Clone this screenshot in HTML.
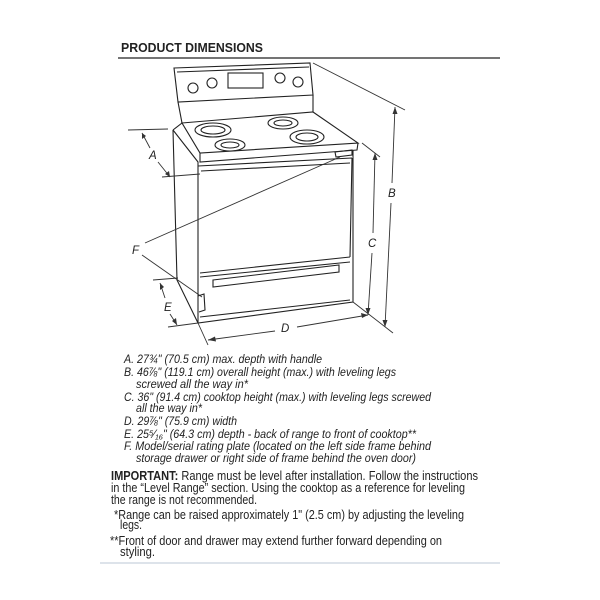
<!DOCTYPE html>
<html><head><style>
html,body{margin:0;padding:0;background:#fff;}
svg{display:block;}
text{font-family:"Liberation Sans",sans-serif;fill:#222;}
.it{font-style:italic;font-size:11.5px;}
.n{font-size:13px;}
</style></head><body>
<svg width="600" height="600" viewBox="0 0 600 600">
<text x="121" y="52" font-size="13" font-weight="bold" fill="#111" textLength="142" lengthAdjust="spacingAndGlyphs">PRODUCT DIMENSIONS</text>
<line x1="118" y1="58" x2="500" y2="58" stroke="#222" stroke-width="1.3"/>
<g fill="none" stroke="#222" stroke-width="1.1">
<path d="M174,68 L310,63 L313,95 L178,102 Z"/>
<path d="M177,72 L309,67"/>
<path d="M178,102 L182,123 M313,95 L313,112"/>
<path d="M182,123 L313,112 L358,143 L200,153 Z"/>
<path d="M200,153 L200,162 L357,150 L358,143"/>
<path d="M173,130 L182,123"/>
<path d="M173,130 L177,280 L198,323 L353,302 L353,150"/>
<path d="M173,130 L198,162 L198,323"/>
<path d="M198,166 L352,158 M200,273 L350,257 M352,158 L350,257"/>
<path d="M201,171 L350,163"/>
<path d="M200,277 L350,262 M200,317 L350,300"/>
<path d="M213,280 L339,265 L339,272 L213,287 Z"/>
<path d="M198,296 L204,294 L205,310 L199,312"/>
<circle cx="193" cy="88" r="5"/><circle cx="212" cy="83" r="5"/>
<circle cx="280" cy="78" r="5"/><circle cx="298" cy="82" r="5"/>
<rect x="228" y="73" width="35" height="15"/>
<ellipse cx="213" cy="130" rx="18" ry="7"/><ellipse cx="213" cy="130" rx="12" ry="4"/>
<ellipse cx="283" cy="123" rx="15" ry="6"/><ellipse cx="283" cy="123" rx="9" ry="3"/>
<ellipse cx="307" cy="137" rx="17" ry="7"/><ellipse cx="307" cy="137" rx="11" ry="4"/>
<ellipse cx="230" cy="145" rx="15" ry="6"/><ellipse cx="230" cy="145" rx="9" ry="3"/>
<path d="M335,152 L352,150 L352,155 L336,157 Z"/>
</g>
<g fill="none" stroke="#333" stroke-width="0.9">
<line x1="128" y1="130" x2="168" y2="129"/><line x1="162" y1="177" x2="200" y2="174"/>
<line x1="142" y1="133" x2="150" y2="148"/><line x1="158" y1="162" x2="170" y2="177"/>
<line x1="313" y1="63" x2="405" y2="110"/><line x1="395" y1="107" x2="392" y2="183"/><line x1="391" y1="203" x2="385" y2="327"/>
<line x1="353" y1="302" x2="393" y2="333"/>
<line x1="362" y1="143" x2="380" y2="157"/><line x1="375" y1="153" x2="373" y2="233"/><line x1="372" y1="253" x2="368" y2="315"/>
<line x1="198" y1="323" x2="208" y2="345"/>
<line x1="208" y1="340" x2="275" y2="331"/><line x1="297" y1="327" x2="368" y2="315"/>
<line x1="153" y1="280" x2="178" y2="278"/><line x1="168" y1="327" x2="198" y2="323"/>
<line x1="160" y1="283" x2="165" y2="298"/><line x1="170" y1="314" x2="177" y2="325"/>
<line x1="145" y1="243" x2="340" y2="157"/><line x1="142" y1="255" x2="202" y2="297"/>
</g>
<g fill="#333">
<path d="M142,133 l0,6 l4,-3 z"/><path d="M170,177 l-1,-6 l-4,3 z"/>
<path d="M395,107 l-2.5,7 l5,0 z"/><path d="M385,327 l-2.5,-7 l5,0 z"/>
<path d="M375,153 l-2.5,7 l5,0 z"/><path d="M368,315 l-2.5,-7 l5,0 z"/>
<path d="M208,340 l7,-3.5 l1,5 z"/><path d="M368,315 l-7,-2 l1,5 z"/>
<path d="M160,283 l0,7 l4,-3 z"/><path d="M177,325 l-1,-7 l-4,3 z"/>
</g>
<text x="149" y="159" class="it" font-size="12">A</text>
<text x="388" y="197" class="it" font-size="12">B</text>
<text x="368" y="247" class="it" font-size="12">C</text>
<text x="281" y="332" class="it" font-size="12">D</text>
<text x="164" y="311" class="it" font-size="12">E</text>
<text x="132" y="254" class="it" font-size="12">F</text>
<g lengthAdjust="spacingAndGlyphs">
<text class="it" x="124" y="363" textLength="198" lengthAdjust="spacingAndGlyphs">A. 27¾" (70.5 cm) max. depth with handle</text>
<text class="it" x="124" y="376" textLength="272" lengthAdjust="spacingAndGlyphs">B. 46⅞" (119.1 cm) overall height (max.) with leveling legs</text>
<text class="it" x="136" y="388" textLength="112" lengthAdjust="spacingAndGlyphs">screwed all the way in*</text>
<text class="it" x="124" y="401" textLength="307" lengthAdjust="spacingAndGlyphs">C. 36" (91.4 cm) cooktop height (max.) with leveling legs screwed</text>
<text class="it" x="136" y="412" textLength="66" lengthAdjust="spacingAndGlyphs">all the way in*</text>
<text class="it" x="124" y="425" textLength="113" lengthAdjust="spacingAndGlyphs">D. 29⅞" (75.9 cm) width</text>
<text class="it" x="124" y="438" textLength="292" lengthAdjust="spacingAndGlyphs">E. 25⁵⁄₁₆" (64.3 cm) depth - back of range to front of cooktop**</text>
<text class="it" x="124" y="450" textLength="307" lengthAdjust="spacingAndGlyphs">F. Model/serial rating plate (located on the left side frame behind</text>
<text class="it" x="136" y="462" textLength="280" lengthAdjust="spacingAndGlyphs">storage drawer or right side of frame behind the oven door)</text>
<text class="n" x="111" y="480" textLength="367" lengthAdjust="spacingAndGlyphs"><tspan font-weight="bold">IMPORTANT:</tspan> Range must be level after installation. Follow the instructions</text>
<text class="n" x="111" y="492" textLength="354" lengthAdjust="spacingAndGlyphs">in the “Level Range” section. Using the cooktop as a reference for leveling</text>
<text class="n" x="111" y="504" textLength="146" lengthAdjust="spacingAndGlyphs">the range is not recommended.</text>
<text class="n" x="114" y="519" textLength="350" lengthAdjust="spacingAndGlyphs">*Range can be raised approximately 1" (2.5 cm) by adjusting the leveling</text>
<text class="n" x="120" y="529" textLength="22" lengthAdjust="spacingAndGlyphs">legs.</text>
<text class="n" x="110" y="545" textLength="332" lengthAdjust="spacingAndGlyphs">**Front of door and drawer may extend further forward depending on</text>
<text class="n" x="120" y="556" textLength="35" lengthAdjust="spacingAndGlyphs">styling.</text>
</g>
<line x1="100" y1="563" x2="500" y2="563" stroke="#dde3ea" stroke-width="2"/>
</svg>
</body></html>
